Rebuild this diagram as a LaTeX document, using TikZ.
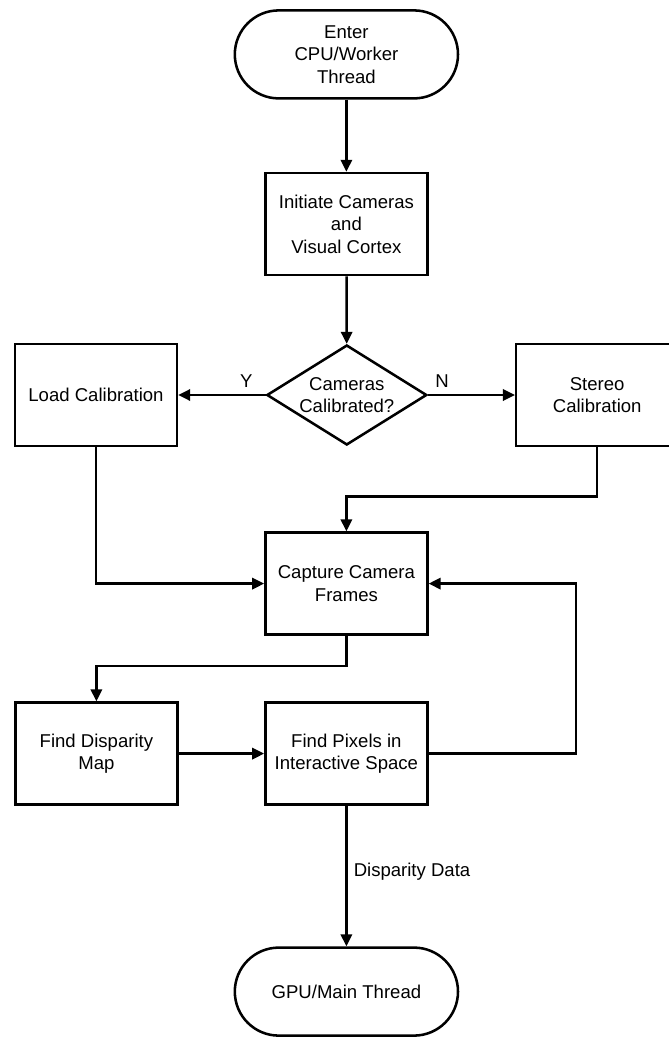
\documentclass[tikz,border=0pt]{standalone}
\usepackage{fontspec}
\setmainfont{Liberation Sans}
\usetikzlibrary{arrows.meta,shapes.geometric}
\tikzset{
  block/.style={draw, line width=1.8pt, minimum width=4.05cm, minimum height=2.55cm, align=center, inner sep=2pt},
  term/.style={draw, line width=1.8pt, rounded corners=1.1cm, minimum width=5.58cm, minimum height=2.2cm, align=center},
  decision/.style={draw, diamond, line width=1.8pt, minimum width=4cm, minimum height=2.5cm, inner sep=0pt},
  flow/.style={line width=1.8pt, -{Triangle[length=8.5pt,width=8pt]}},
  wire/.style={line width=1.8pt}
}

\begin{document}
\begin{tikzpicture}[font=\fontsize{13.2}{16}\selectfont]
\useasboundingbox (0,0) rectangle (16.7,-25.925);
% nodes
\node[term] (start) at (8.66,-1.36) {Enter\\CPU/Worker\\Thread};
\node[block] (init) at (8.66,-5.6) {Initiate Cameras\\and\\Visual Cortex};
\node[decision] (dec) at (8.67,-9.875) {};
\node[align=center] (dectext) at (dec) {Cameras\\Calibrated?};
\node[block] (load) at (2.4,-9.875) {Load Calibration};
\node[block] (stereo) at (14.93,-9.875) {Stereo\\Calibration};
\node[block] (capture) at (8.66,-14.59) {Capture Camera\\Frames};
\node[block] (disp) at (2.41,-18.84) {Find Disparity\\Map};
\node[block] (pixels) at (8.66,-18.84) {Find Pixels in\\Interactive Space};
\node[term] (gpu) at (8.66,-24.79) {GPU/Main Thread};
% connectors
\draw[flow] (start) -- (init);
\draw[flow] (init) -- (dec);
\draw[flow] (dec.west) -- node[above=1pt, pos=0.22] {Y} (load.east);
\draw[flow] (dec.east) -- node[above=1pt, pos=0.16] {N} (stereo.west);
\draw[flow] (load.south) |- (capture.west);
\draw[flow] (stereo.south) -- ++(0,-1.225) -| (capture.north);
\draw[flow] (capture.south) -- ++(0,-0.75) -| (disp.north);
\draw[flow] (disp) -- (pixels);
\draw[flow] (pixels.east) -- ++(3.68,0) |- (capture.east);
\draw[flow] (pixels) -- node[right=1pt, pos=0.47] {Disparity Data} (gpu);
\end{tikzpicture}
\end{document}
